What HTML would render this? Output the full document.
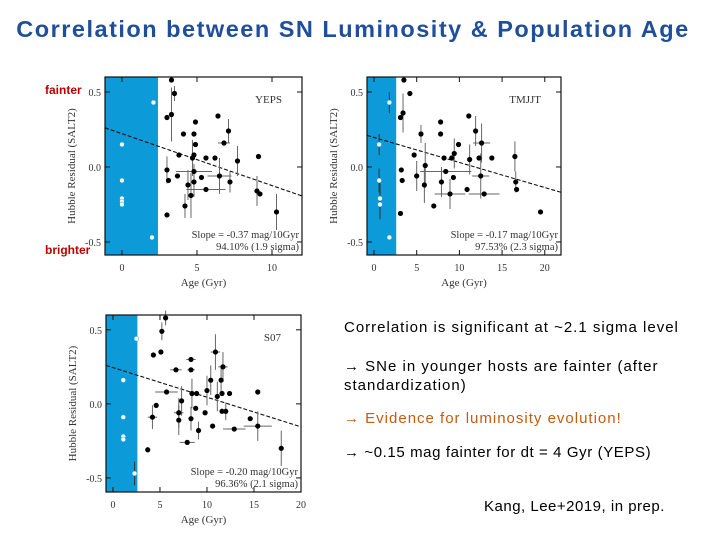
<!DOCTYPE html>
<html><head><meta charset="utf-8">
<style>
body{margin:0;background:#fff;}
#wrap{position:relative;width:720px;height:540px;overflow:hidden;background:#fff;font-family:"Liberation Sans",sans-serif;}
.t{position:absolute;white-space:nowrap;}
</style></head>
<body>
<div id="wrap">
<div class="t" style="left:0;width:706px;text-align:center;top:16px;font-size:23.5px;color:#1f4e9a;font-weight:bold;letter-spacing:1.5px">Correlation between SN Luminosity &amp; Population Age</div>
<div class="t" style="left:45px;top:83px;font-size:12px;color:#c00000;font-weight:bold">fainter</div>
<div class="t" style="left:45px;top:243px;font-size:12px;color:#c00000;font-weight:bold">brighter</div>
<svg id="chart" width="720" height="540" style="position:absolute;left:0;top:0"></svg>
<div class="t" style="left:344px;top:319px;font-size:15px;color:#000;letter-spacing:1px">Correlation is significant at ~2.1 sigma level</div>
<div class="t" style="left:344px;top:357px;font-size:15px;color:#000;line-height:19px;letter-spacing:1px">→ SNe in younger hosts are fainter (after<br>standardization)</div>
<div class="t" style="left:344px;top:410px;font-size:15px;color:#c55a11;letter-spacing:1px">→ Evidence for luminosity evolution!</div>
<div class="t" style="left:344px;top:444px;font-size:15px;color:#000;letter-spacing:0.6px">→ ~0.15 mag fainter for dt = 4 Gyr (YEPS)</div>
<div class="t" style="left:484px;top:498px;font-size:15px;color:#000;letter-spacing:0.5px">Kang, Lee+2019, in prep.</div>
</div>
<script>
// ---- YEPS panel data ----
const yepsWhiteAge=[2.1,0,0,0,0,0,2.0];
const yepsWhiteRes=[0.43,0.15,-0.09,-0.21,-0.23,-0.25,-0.47];
const yepsAge=[3.3,3.5,3.3,3.0,4.9,4.1,4.8,6.4,7.1,6.8,4.9,3.8,4.8,4.7,5.6,6.2,7.7,9.1,3.0,4.8,3.7,5.3,6.5,3.1,4.8,4.4,7.2,5.6,4.6,9.0,9.2,4.2,3.0,10.3];
const yepsRes=[0.58,0.49,0.35,0.33,0.30,0.22,0.22,0.34,0.24,0.16,0.15,0.08,0.08,0.06,0.06,0.06,0.04,0.07,-0.02,-0.03,-0.06,-0.07,-0.06,-0.09,-0.10,-0.12,-0.10,-0.15,-0.19,-0.16,-0.18,-0.26,-0.32,-0.30];
const yepsYErr=[0,0.05,0.18,0,0,0,0,0,0.08,0,0,0,0,0.12,0,0,0.1,0,0.09,0.05,0,0,0.12,0,0.1,0.1,0.07,0,0.15,0.1,0,0.08,0,0.12];
const yepsXErr=[0,0,0,0,0,0,0,0,0,0.4,0,0,0,0,0,0,0,0,0,1.2,0,0,0.8,0,0,0,0,1.3,0,0,0,0,0,0];
// ---- TMJJT panel data ----
const tmjWhiteAge=[1.8,0.6,0.6,0.7,0.7,1.8];
const tmjWhiteRes=[0.43,0.15,-0.09,-0.21,-0.25,-0.47];
const tmjWhiteErr=[0.07,0.07,0.08,0.1,0.1,0];
const tmjAge=[3.5,4.2,3.4,3.1,11.1,7.8,11.9,5.5,7.8,12.6,9.9,4.7,9.4,8.2,9.1,11.2,12.3,13.8,16.5,3.2,6.0,8.4,5.0,12.5,9.3,3.3,5.9,7.9,16.6,10.9,16.7,8.9,12.9,7.0,3.1,19.5];
const tmjRes=[0.58,0.49,0.36,0.33,0.34,0.30,0.24,0.22,0.22,0.16,0.15,0.08,0.09,0.06,0.06,0.05,0.06,0.06,0.07,-0.02,0.01,-0.03,-0.06,-0.06,-0.07,-0.09,-0.12,-0.10,-0.10,-0.15,-0.15,-0.18,-0.18,-0.26,-0.31,-0.30];
const tmjYErr=[0,0,0.13,0,0,0,0.1,0.06,0,0.13,0,0,0.1,0,0,0.1,0,0,0.1,0,0.15,0,0.1,0.15,0,0,0.12,0.1,0.07,0,0,0.1,0,0,0,0];
const tmjXErr=[0,0,0,0,0,0,0,0,0,1.0,0,0,0,0,0,0,0,0,0,0,0,3.0,0,1.0,0,0,0,0,0,0,0,1.8,1.8,0,0,0];
// ---- S07 panel data ----
const s07WhiteAge=[2.5,1.1,1.1,1.1,1.1,2.3];
const s07WhiteRes=[0.44,0.16,-0.09,-0.22,-0.24,-0.47];
const s07WhiteErr=[0,0,0,0,0,0.08];
const s07Age=[5.6,5.2,5.1,4.3,10.9,8.3,11.7,6.7,8.3,11.5,10.4,5.7,15.4,10.0,8.4,8.9,11.1,11.6,12.4,7.3,4.6,7.0,8.8,9.8,11.6,12.0,4.2,7.0,8.3,14.6,10.6,15.4,9.1,12.9,7.9,3.7,17.9];
const s07Res=[0.58,0.49,0.35,0.33,0.35,0.30,0.25,0.23,0.23,0.16,0.16,0.08,0.08,0.09,0.07,0.07,0.05,0.07,0.07,0.02,-0.01,-0.06,-0.03,-0.06,-0.05,-0.05,-0.09,-0.11,-0.10,-0.10,-0.15,-0.15,-0.18,-0.17,-0.26,-0.31,-0.30];
const s07YErr=[0.05,0.06,0,0,0.12,0,0.1,0,0,0.1,0.1,0,0,0.1,0.1,0,0.1,0,0,0.1,0,0.1,0,0,0,0.06,0.08,0.1,0.08,0,0,0.1,0.06,0,0,0,0.12];
const s07XErr=[0,0,0,0,0.5,0.5,0.5,0.6,0.4,0,0,1.2,0,0,0,0,0,0,0,0,0,0.5,0,0,0,0,0.5,0,0,0,0,1.5,0,1.2,0.8,0,0];
// ---- fits & labels ----
const fitSlope=[-0.0346,-0.0167,-0.020];
const fitIntercept=[0.222,0.197,0.245];
const panelNames=["YEPS","TMJJT","S07"];
const slopeText=["Slope = -0.37 mag/10Gyr","Slope = -0.17 mag/10Gyr","Slope = -0.20 mag/10Gyr"];
const sigText=["94.10% (1.9 sigma)","97.53% (2.3 sigma)","96.36% (2.1 sigma)"];
const xTicks=[[0,5,10],[0,5,10,15,20],[0,5,10,15,20]];
const yTicks=[0.5,0.0,-0.5];
const yTickLabels=["0.5","0.0","-0.5"];
const bandEdge=[2.4,2.6,2.6];

const svg=document.getElementById('chart');
const NS='http://www.w3.org/2000/svg';
function mk(tag,attrs,parent){const e=document.createElementNS(NS,tag);for(const k in attrs)e.setAttribute(k,attrs[k]);(parent||svg).appendChild(e);return e;}

const panels=[
 {L:105,R:302,T:77,B:255,xMin:-1.13,xMax:12,yMin:-0.587,yMax:0.6,wa:yepsWhiteAge,wr:yepsWhiteRes,we:null,a:yepsAge,r:yepsRes,ye:yepsYErr,xe:yepsXErr},
 {L:367,R:561,T:77,B:255,xMin:-0.82,xMax:21.9,yMin:-0.587,yMax:0.6,wa:tmjWhiteAge,wr:tmjWhiteRes,we:tmjWhiteErr,a:tmjAge,r:tmjRes,ye:tmjYErr,xe:tmjXErr},
 {L:106,R:301,T:315,B:492,xMin:-0.74,xMax:20.0,yMin:-0.595,yMax:0.6,wa:s07WhiteAge,wr:s07WhiteRes,we:s07WhiteErr,a:s07Age,r:s07Res,ye:s07YErr,xe:s07XErr}
];
panels.forEach((p,i)=>{
 const g=mk('g',{});
 
 
 const X=v=>p.L+(v-p.xMin)/(p.xMax-p.xMin)*(p.R-p.L);
 const Y=v=>p.B-(v-p.yMin)/(p.yMax-p.yMin)*(p.B-p.T);
 const band=mk('rect',{x:p.L,y:p.T,width:X(bandEdge[i])-p.L,height:p.B-p.T,fill:'#0c9ad8'},g);
 
 
 const fl=mk('line',{x1:X(p.xMin),y1:Y(fitIntercept[i]+fitSlope[i]*p.xMin),x2:X(p.xMax),y2:Y(fitIntercept[i]+fitSlope[i]*p.xMax),stroke:'#111','stroke-width':1.1,'stroke-dasharray':'4,2'},g);
 
 
 p.a.forEach((v,j)=>{
  if(p.ye[j]>0)mk('line',{x1:X(v),x2:X(v),y1:Y(p.r[j]-p.ye[j]),y2:Y(p.r[j]+p.ye[j]),stroke:'#666','stroke-width':1},g);
  if(p.xe[j]>0)mk('line',{x1:X(v-p.xe[j]),x2:X(v+p.xe[j]),y1:Y(p.r[j]),y2:Y(p.r[j]),stroke:'#666','stroke-width':1},g);
 });
 if(p.we)p.wa.forEach((v,j)=>{if(p.we[j]>0)mk('line',{x1:X(v),x2:X(v),y1:Y(p.wr[j]-p.we[j]),y2:Y(p.wr[j]+p.we[j]),stroke:'#333','stroke-width':1},g);});
 p.a.forEach((v,j)=>{
  const c=mk('circle',{cx:X(v),cy:Y(p.r[j]),r:2.6,fill:'#000'},g);
  
  
 });
 p.wa.forEach((v,j)=>{
  const c=mk('circle',{cx:X(v),cy:Y(p.wr[j]),r:2.4,fill:'#fff',stroke:'#0c9ad8','stroke-width':0.5},g);
  
  
 });
 mk('rect',{x:p.L,y:p.T,width:p.R-p.L,height:p.B-p.T,fill:'none',stroke:'#111','stroke-width':1.2},g);
 yTicks.forEach((t,k)=>{
  mk('line',{x1:p.L,x2:p.L+5,y1:Y(t),y2:Y(t),stroke:'#111'},g);
  mk('line',{x1:p.R,x2:p.R-5,y1:Y(t),y2:Y(t),stroke:'#111'},g);
  const tx=mk('text',{x:p.L-4,y:Y(t)+4,'text-anchor':'end','font-size':10,'font-family':'Liberation Serif, serif',fill:'#333'},g);
  tx.textContent=yTickLabels[k];
  
  
 });
 xTicks[i].forEach(t=>{
  mk('line',{x1:X(t),x2:X(t),y1:p.B,y2:p.B-5,stroke:'#111'},g);
  mk('line',{x1:X(t),x2:X(t),y1:p.T,y2:p.T+5,stroke:'#111'},g);
  const tx=mk('text',{x:X(t),y:p.B+16,'text-anchor':'middle','font-size':10,'font-family':'Liberation Serif, serif',fill:'#333'},g);
  tx.textContent=t;
  
  
 });
 const xl=mk('text',{x:(p.L+p.R)/2,y:p.B+31,'text-anchor':'middle','font-size':11,'font-family':'Liberation Serif, serif',fill:'#333'},g);
 xl.textContent='Age (Gyr)';
 
 
 const yx=p.L-30, yy=(p.T+p.B)/2;
 const yl=mk('text',{x:yx,y:yy,'text-anchor':'middle','font-size':11,'font-family':'Liberation Serif, serif',fill:'#333',transform:`rotate(-90 ${yx} ${yy})`},g);
 yl.textContent='Hubble Residual (SALT2)';
 
 
 const nm=mk('text',{x:p.R-20,y:p.T+26,'text-anchor':'end','font-size':11,'font-family':'Liberation Serif, serif',fill:'#333'},g);
 nm.textContent=panelNames[i];
 
 
 const s1=mk('text',{x:p.R-3,y:p.B-17,'text-anchor':'end','font-size':10.5,'font-family':'Liberation Serif, serif',fill:'#333'},g);
 s1.textContent=slopeText[i];
 
 
 const s2=mk('text',{x:p.R-3,y:p.B-5,'text-anchor':'end','font-size':10.5,'font-family':'Liberation Serif, serif',fill:'#333'},g);
 s2.textContent=sigText[i];
 
 
});
</script>
</body></html>
